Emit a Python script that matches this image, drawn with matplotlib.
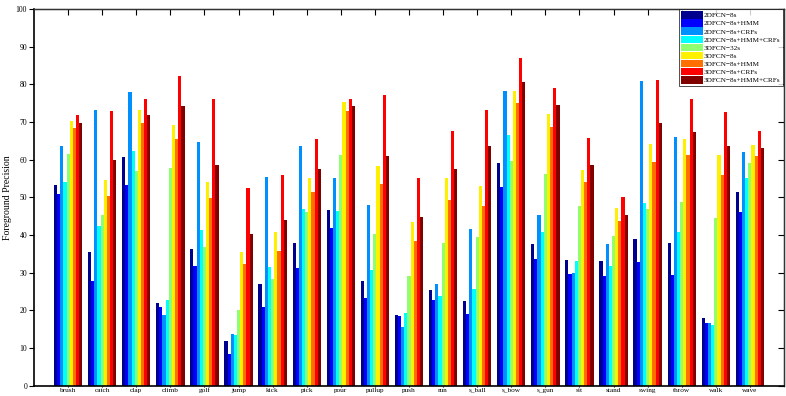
import numpy as np
import matplotlib
matplotlib.use('Agg')
import matplotlib.pyplot as plt

plt.rcParams['font.family'] = ['Liberation Serif', 'DejaVu Serif']

actions = ['brush', 'catch', 'clap', 'climb', 'golf', 'jump', 'kick', 'pick',
           'pour', 'pullup', 'push', 'run', 's_ball', 's_bow', 's_gun', 'sit',
           'stand', 'swing', 'throw', 'walk', 'wave']

methods = ['2DFCN\u22128s', '2DFCN\u22128s+HMM', '2DFCN\u22128s+CRFs',
           '2DFCN\u22128s+HMM+CRFs', '3DFCN\u221232s', '3DFCN\u22128s',
           '3DFCN\u22128s+HMM', '3DFCN\u22128s+CRFs', '3DFCN\u22128s+HMM+CRFs']

# one list per method, values in action order
fcn2d_8s = [53.3, 35.4, 60.7, 21.9, 36.3, 11.9, 27.1, 38.0, 46.7, 27.8, 18.8,
            25.4, 22.5, 59.1, 37.5, 33.4, 33.1, 38.9, 37.8, 17.9, 51.3]
fcn2d_hmm = [50.8, 27.8, 53.3, 20.9, 31.8, 8.4, 21.0, 31.3, 41.9, 23.3, 18.5,
             22.7, 19.1, 52.7, 33.6, 29.6, 29.1, 32.8, 29.4, 16.6, 46.1]
fcn2d_crf = [63.6, 73.1, 78.0, 18.8, 64.7, 13.8, 55.3, 63.6, 55.1, 48.1, 15.6,
             26.9, 41.5, 78.1, 45.4, 29.9, 37.5, 80.8, 66.1, 16.6, 62.1]
fcn2d_hmm_crf = [54.2, 42.4, 62.4, 22.7, 41.3, 13.5, 31.6, 46.9, 46.5, 30.8, 19.4,
                 23.8, 25.8, 66.6, 40.8, 33.0, 31.8, 48.6, 40.8, 16.0, 55.1]
fcn3d_32s = [61.5, 45.3, 57.0, 57.8, 36.8, 20.1, 28.3, 46.1, 61.2, 40.4, 29.2,
             37.9, 39.5, 59.6, 56.3, 47.8, 39.7, 46.9, 48.8, 44.6, 59.2]
fcn3d_8s = [70.3, 54.6, 73.2, 69.2, 54.1, 35.5, 40.8, 55.1, 75.3, 58.3, 43.5,
            55.1, 53.0, 78.3, 72.2, 57.3, 47.1, 64.2, 65.5, 61.2, 63.8]
fcn3d_hmm = [68.4, 50.4, 69.7, 65.5, 49.8, 32.4, 35.8, 51.4, 72.9, 53.5, 38.5,
             49.3, 47.7, 75.0, 68.8, 54.1, 43.8, 59.5, 61.2, 56.0, 61.1]
fcn3d_crf = [71.9, 72.9, 76.1, 82.2, 76.1, 52.5, 56.0, 65.5, 76.2, 77.1, 55.1,
             67.6, 73.2, 87.0, 79.0, 65.8, 50.1, 81.2, 76.2, 72.7, 67.5]
fcn3d_hmm_crf = [69.7, 59.9, 71.9, 74.2, 58.6, 40.3, 44.0, 57.6, 74.2, 61.1, 44.8,
                 57.6, 63.5, 80.6, 74.5, 58.6, 45.3, 69.7, 67.3, 63.6, 63.1]

series = [fcn2d_8s, fcn2d_hmm, fcn2d_crf, fcn2d_hmm_crf, fcn3d_32s,
          fcn3d_8s, fcn3d_hmm, fcn3d_crf, fcn3d_hmm_crf]

colors = ['#00008F', '#0000FF', '#008FFF', '#00FFFF', '#8FFF70',
          '#FFF000', '#FF7000', '#FF0000', '#800000']

fig = plt.figure(figsize=(7.86, 3.96), dpi=100)
ax = fig.add_axes([34 / 786, 1 - 385.7 / 396, 750 / 786, 376.7 / 396])

x = np.arange(1, len(actions) + 1)
bw = 0.0925
for i, (vals, c, name) in enumerate(zip(series, colors, methods)):
    ax.bar(x + (i - 4) * bw, vals, bw, color=c, label=name, linewidth=0)

ax.set_xlim(0, 22)
ax.set_ylim(0, 100)
ax.set_yticks(np.arange(0, 101, 10))
ax.set_xticks(x)
ax.set_xticklabels(actions)
ax.tick_params(axis='both', labelsize=5.5, width=0.8)
ax.tick_params(axis='y', direction='out', length=3.5, pad=1.5)
ax.tick_params(axis='x', direction='out', length=0.8, pad=0.6, labelsize=5.2)
ax.set_ylabel('Foreground Precision', fontsize=7, labelpad=3)

# inward ticks on top and right, like a boxed matlab axes
top = ax.secondary_xaxis('top')
top.set_xticks(x)
top.tick_params(direction='in', length=4, width=0.8, labeltop=False)
right = ax.secondary_yaxis('right')
right.set_yticks(np.arange(0, 101, 10))
right.tick_params(direction='in', length=4, width=0.8, labelright=False)

for s in ['left', 'bottom']:
    ax.spines[s].set_linewidth(1.2)
for s in ['top', 'right']:
    ax.spines[s].set_linewidth(1.0)
    ax.spines[s].set_color('#333333')

leg = ax.legend(loc='upper right', bbox_to_anchor=(0.9985, 1.0), fontsize=5.2,
                frameon=True, fancybox=False, edgecolor='black',
                borderaxespad=0, borderpad=0.3, labelspacing=0.1,
                handlelength=3.0, handleheight=1.2, handletextpad=0.2)
leg.get_frame().set_linewidth(0.6)

fig.savefig('out.png', dpi=100)
